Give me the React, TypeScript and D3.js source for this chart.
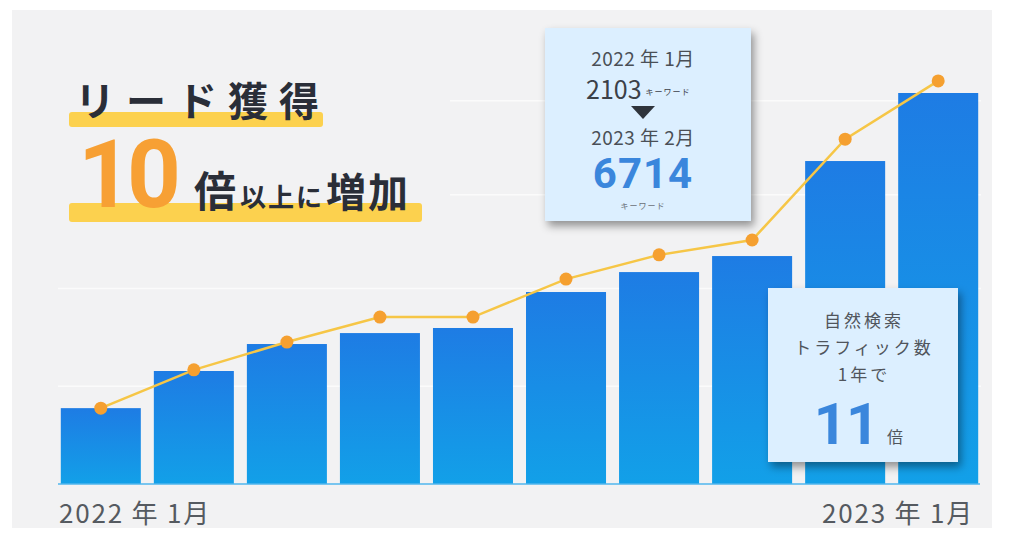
import { useEffect, useRef } from 'react'
import * as d3 from 'd3'

const months = ['2022-01', '2022-02', '2022-03', '2022-04', '2022-05', '2022-06', '2022-07', '2022-08', '2022-09', '2022-10']
const trafficValues = [19.4, 28.9, 35.8, 38.6, 39.9, 49.1, 54.2, 58.3, 82.6, 100]
const leadValues = [19.4, 29.2, 36.3, 42.7, 42.7, 52.4, 58.6, 62.4, 88.2, 103.1]
const gridTicks = [25, 50, 74, 98]
const xLabels = ['2022 年 1月', '2023 年 1月']

const W = 1010
const H = 539
const FONT = '"Noto Sans CJK JP", "Noto Sans", sans-serif'
const NUM_FONT = '"Roboto", "Noto Sans", sans-serif'

export default function App() {
	const ref = useRef<SVGSVGElement>(null)

	useEffect(() => {
		const svg = d3.select(ref.current)
		svg.selectAll('*').remove()

		const defs = svg.append('defs')
		const grad = defs
			.append('linearGradient')
			.attr('id', 'barGrad')
			.attr('x1', 0)
			.attr('y1', 0)
			.attr('x2', 0)
			.attr('y2', 1)
		grad.append('stop').attr('offset', '0%').attr('stop-color', '#1e7ce4')
		grad.append('stop').attr('offset', '100%').attr('stop-color', '#12a0e8')

		const shadow = defs
			.append('filter')
			.attr('id', 'shadow')
			.attr('x', '-20%')
			.attr('y', '-20%')
			.attr('width', '140%')
			.attr('height', '140%')
		shadow
			.append('feDropShadow')
			.attr('dx', 3)
			.attr('dy', 5)
			.attr('stdDeviation', 4)
			.attr('flood-color', '#000')
			.attr('flood-opacity', 0.4)

		// card background
		svg.append('rect').attr('width', W).attr('height', H).attr('fill', '#ffffff')
		svg
			.append('rect')
			.attr('x', 12)
			.attr('y', 10)
			.attr('width', 980)
			.attr('height', 518)
			.attr('fill', '#f2f2f3')

		const x = d3.scaleBand().domain(months).range([58, 981]).paddingInner(0.14).paddingOuter(0.03)
		const y = d3.scaleLinear().domain([0, 100]).range([484, 93])

		// faint gridlines
		svg
			.append('g')
			.selectAll('line')
			.data(gridTicks)
			.enter()
			.append('line')
			.attr('x1', (d) => (d > 60 ? 450 : 58))
			.attr('x2', 981)
			.attr('y1', (d) => y(d))
			.attr('y2', (d) => y(d))
			.attr('stroke', '#fbfbfb')
			.attr('stroke-width', 1.5)

		// bars
		svg
			.append('g')
			.selectAll('rect')
			.data(trafficValues)
			.enter()
			.append('rect')
			.attr('x', (_d, i) => x(months[i]) as number)
			.attr('y', (d) => y(d))
			.attr('width', x.bandwidth())
			.attr('height', (d) => y(0) - y(d))
			.attr('fill', 'url(#barGrad)')

		// baseline
		svg
			.append('line')
			.attr('x1', 58)
			.attr('x2', 980)
			.attr('y1', y(0))
			.attr('y2', y(0))
			.attr('stroke', '#4fb6ee')
			.attr('stroke-width', 1.5)

		// leads line
		const line = d3
			.line<number>()
			.x((_d, i) => (x(months[i]) as number) + x.bandwidth() / 2)
			.y((d) => y(d))
		svg
			.append('path')
			.datum(leadValues)
			.attr('d', line)
			.attr('fill', 'none')
			.attr('stroke', '#f6c646')
			.attr('stroke-width', 2.5)
		svg
			.append('g')
			.selectAll('circle')
			.data(leadValues)
			.enter()
			.append('circle')
			.attr('cx', (_d, i) => (x(months[i]) as number) + x.bandwidth() / 2)
			.attr('cy', (d) => y(d))
			.attr('r', 6.5)
			.attr('fill', '#f5a030')

		// x labels
		svg
			.append('text')
			.attr('x', 59)
			.attr('y', 523)
			.attr('font-size', 26)
			.attr('letter-spacing', 1.8)
			.attr('fill', '#555a60')
			.style('font-family', FONT)
			.text(xLabels[0])
		svg
			.append('text')
			.attr('x', 974)
			.attr('y', 523)
			.attr('text-anchor', 'end')
			.attr('font-size', 26)
			.attr('letter-spacing', 1.8)
			.attr('fill', '#555a60')
			.style('font-family', FONT)
			.text(xLabels[1])

		// headline
		const head = svg.append('g').style('font-family', FONT)
		head.append('rect').attr('x', 69).attr('y', 112).attr('width', 254).attr('height', 15).attr('rx', 3).attr('fill', '#fcd14e')
		head.append('rect').attr('x', 69).attr('y', 203).attr('width', 353).attr('height', 19).attr('rx', 3).attr('fill', '#fcd14e')
		head
			.append('text')
			.attr('x', 75)
			.attr('y', 116)
			.attr('font-size', 40)
			.attr('font-weight', 700)
			.attr('letter-spacing', 11)
			.attr('fill', '#2a2e38')
			.text('リード獲得')
		head
			.append('text')
			.attr('x', 78)
			.attr('y', 207)
			.attr('font-size', 94)
			.attr('font-weight', 700)
			.attr('letter-spacing', -5)
			.attr('fill', '#f7a034')
			.style('font-family', NUM_FONT)
			.text('10')
		const sub = head.append('text').attr('y', 207).attr('fill', '#2a2e38').attr('font-weight', 700)
		sub.append('tspan').attr('x', 194).attr('font-size', 42).text('倍')
		sub.append('tspan').attr('font-size', 26).attr('dx', 4).attr('letter-spacing', 2).text('以上に')
		sub.append('tspan').attr('font-size', 40).attr('dx', 2).attr('letter-spacing', 2).text('増加')

		// callout 1
		const c1 = svg.append('g').style('font-family', FONT).attr('text-anchor', 'middle')
		c1.append('rect')
			.attr('x', 545)
			.attr('y', 28)
			.attr('width', 206)
			.attr('height', 193)
			.attr('fill', '#dcefff')
			.attr('filter', 'url(#shadow)')
		const cx1 = 643
		c1.append('text')
			.attr('x', cx1)
			.attr('y', 66)
			.attr('font-size', 19)
			.attr('letter-spacing', 0.5)
			.attr('fill', '#4a4f56')
			.text('2022 年 1月')
		const t2103 = c1.append('text').attr('x', 586).attr('y', 99).attr('text-anchor', 'start').attr('fill', '#3b4048')
		t2103.append('tspan').attr('font-size', 25).text('2103')
		t2103.append('tspan').attr('font-size', 8).attr('dx', 4).attr('dy', -4).attr('letter-spacing', 1).text('キーワード')
		c1.append('path')
			.attr('d', `M${cx1 - 12},106 L${cx1 + 12},106 L${cx1},119 Z`)
			.attr('fill', '#2f343c')
		c1.append('text')
			.attr('x', cx1)
			.attr('y', 145)
			.attr('font-size', 19)
			.attr('letter-spacing', 0.5)
			.attr('fill', '#4a4f56')
			.text('2023 年 2月')
		c1.append('text')
			.attr('x', cx1)
			.attr('y', 188)
			.attr('font-size', 42)
			.attr('font-weight', 700)
			.attr('letter-spacing', 1)
			.attr('fill', '#3a86dc')
			.style('font-family', NUM_FONT)
			.text('6714')
		c1.append('text').attr('x', cx1).attr('y', 209).attr('font-size', 8).attr('letter-spacing', 1).attr('fill', '#6a7078').text('キーワード')

		// callout 2
		const c2 = svg.append('g').style('font-family', FONT).attr('text-anchor', 'middle')
		c2.append('rect')
			.attr('x', 768)
			.attr('y', 288)
			.attr('width', 190)
			.attr('height', 174)
			.attr('fill', '#dcefff')
			.attr('filter', 'url(#shadow)')
		const cx2 = 864
		c2.append('text').attr('x', cx2).attr('y', 327).attr('font-size', 17).attr('letter-spacing', 3).attr('fill', '#50555c').text('自然検索')
		c2.append('text').attr('x', cx2).attr('y', 354).attr('font-size', 17).attr('letter-spacing', 3).attr('fill', '#50555c').text('トラフィック数')
		c2.append('text').attr('x', cx2).attr('y', 381).attr('font-size', 17).attr('letter-spacing', 3).attr('fill', '#50555c').text('1年で')
		c2.append('text')
			.attr('x', 846)
			.attr('y', 444)
			.attr('font-size', 58)
			.attr('font-weight', 700)
			.attr('letter-spacing', -1)
			.attr('fill', '#3a86dc')
			.style('font-family', NUM_FONT)
			.text('11')
		c2.append('text').attr('x', 895).attr('y', 443).attr('font-size', 16).attr('fill', '#50555c').text('倍')
	}, [])

	return <svg ref={ref} width={W} height={H} style={{ display: 'block', margin: '-8px' }} />
}
